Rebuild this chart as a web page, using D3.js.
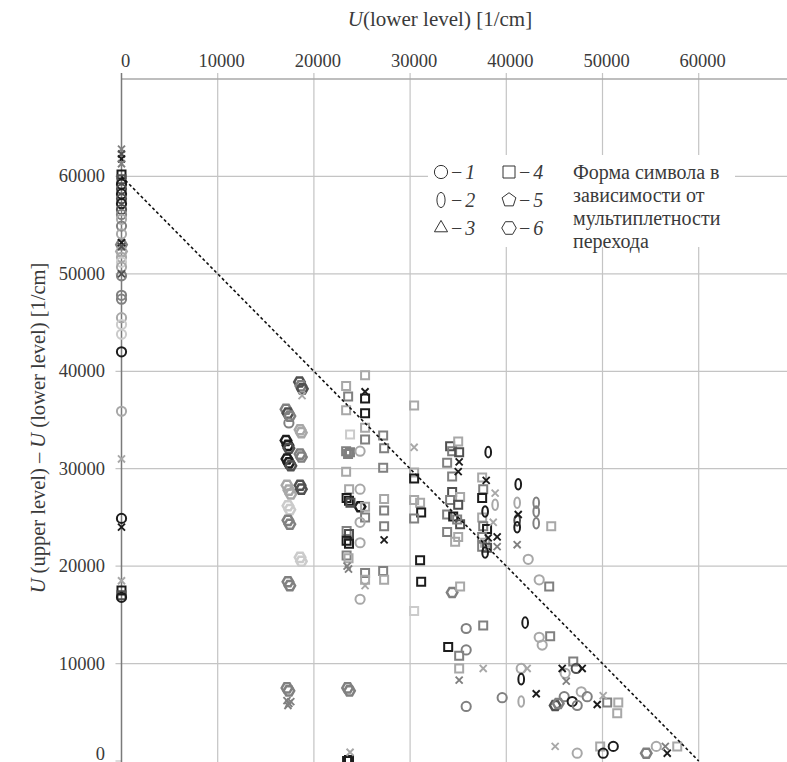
<!DOCTYPE html>
<html>
<head>
<meta charset="utf-8">
<script src="https://cdn.jsdelivr.net/npm/d3@7"></script>
<style>
  body { margin: 0; background: #fff; }
  text { font-family: "Liberation Serif", "Times New Roman", serif; fill: #3a3a3a; }
</style>
</head>
<body>
<div id="container"></div>
<script>
/* CONSTANTS AND GLOBALS */
const width = 787, height = 762;

// each point: [U lower level, U upper - U lower, tone group]
const circles = [
  [0,59200,0],[0,58700,1],[0,58200,0],[0,57700,1],[0,57200,0],[0,56600,1],[0,56100,2],[0,55600,3],
  [0,54900,2],[0,54100,3],[0,51700,3],[0,51200,4],[0,50700,3],[0,49800,2],[0,47800,2],[0,47400,2],
  [0,45500,3],[0,44800,4],[0,43800,4],[0,42000,0],[0,35900,3],[0,24900,0],[0,16800,0],
  [17400,34700,2],
  [24800,31800,3],[24800,27900,3],[24800,24500,3],[24800,22400,3],[24800,16600,3],
  [42280,20700,3],[43420,18600,3],[35830,13600,2],[35830,11400,2],[43420,12700,3],[43730,11900,3],
  [41550,9500,3],[46120,9000,3],[47270,9500,1],[39570,6500,2],[35830,5600,2],[46020,6600,2],
  [46850,6100,0],[47370,5700,2],[47790,7100,3],[48410,6600,2],
  [47370,800,3],[50070,800,0],[51120,1500,0],[55590,1500,3]
];

const ellipses = [
  [38120,31700,0],[37800,25600,0],[37800,21400,0],[38840,26300,3],
  [41240,28400,0],[41130,26500,3],[41130,24700,1],[41130,24000,0],
  [43110,26500,2],[43110,25600,2],[43110,24400,2],
  [41960,14200,0],[41550,8400,0],[41550,6100,3]
];

const squares = [
  [0,60200,0],[0,59700,1],[0,17500,0],[0,17000,1],
  [23450,0,0],[23650,100,0],
  [23350,38500,3],[23560,37400,2],[23350,36000,3],[23760,33500,4],
  [23350,31800,2],[23550,31500,2],[23750,31700,2],[23350,29700,3],[23660,27900,3],
  [23400,27000,0],[23650,26700,0],[23800,26500,1],[23400,23600,2],[23650,23300,1],
  [23400,22600,0],[23650,22300,0],[23400,21100,2],[23600,20800,3],
  [25320,39600,3],[25320,37200,0],[25320,35700,0],[25320,34200,3],[25320,33000,2],
  [25320,26100,3],[25320,25000,2],[25320,19300,2],[25320,18600,3],
  [27200,33400,2],[27300,32100,2],[27200,30100,2],[27300,26900,3],[27300,25700,2],
  [27300,24100,2],[27200,19500,2],[27300,18600,3],
  [30420,36500,3],[30420,29600,3],[30420,29000,0],[30420,26800,3],[31040,26500,3],
  [31150,25500,0],[30420,24900,2],[31040,20600,0],[31150,18400,0],[30420,15400,4],
  [34160,32300,1],[35000,32800,3],[34370,31800,2],[35100,31700,1],[33850,30600,2],
  [34370,29200,2],[34370,27600,1],[35200,27100,3],[34160,26800,2],[35000,26300,1],
  [33850,25300,2],[34480,25100,0],[35200,24300,1],[34890,24800,2],[33850,23500,2],
  [35000,23000,3],[34680,22500,3],
  [37490,29100,3],[37600,27900,2],[37490,27000,0],[37490,25000,3],[37600,24100,2],
  [38000,23800,0],[37490,23000,2],[37800,22400,3],[37490,22000,2],[38000,21900,1],
  [44670,24100,3],
  [44460,17900,2],[35200,17900,3],[46960,10200,2],[35100,10800,2],[35100,9500,3],
  [33960,11700,0],[37600,13900,2],[44560,12800,2],
  [50490,6000,2],[51640,6000,3],[51530,4900,3],[49760,1500,3],[57770,1500,3]
];

const hexagons = [
  [0,53000,2],[0,52300,3],
  [18500,38900,1],[18650,38500,2],[18800,38200,1],
  [17100,36100,2],[17300,35700,1],[17500,35400,2],
  [18560,34000,3],[18700,33700,3],
  [17100,32900,0],[17300,32400,0],[17400,32100,1],
  [17200,31000,0],[17400,30600,0],[17600,30300,1],
  [18560,31500,2],[18700,31200,2],
  [17200,28300,3],[17400,27800,3],[17600,27400,3],
  [18560,28300,1],[18700,27900,1],
  [17300,26200,4],[17500,25800,4],
  [17300,24700,2],[17500,24300,2],
  [18560,20900,4],[18700,20500,4],
  [17300,18400,2],[17500,18000,2],
  [17200,7500,2],[17400,7200,2],
  [23500,7500,2],[23700,7200,2],
  [24800,26100,0],[34370,17300,2],
  [45080,5700,1],[45400,5900,2],[54550,800,2]
];

const crosses = [
  [0,62800,2],[0,62300,1],[0,61800,0],[0,61300,2],[0,53200,0],[0,52800,1],[0,50000,1],
  [0,31000,3],[0,24000,0],[0,18500,3],
  [18770,37500,3],
  [17200,6200,2],[17400,5900,2],[17600,6100,2],[17300,5700,2],
  [23760,900,3],
  [23450,20000,2],[23600,19700,2],
  [25320,37900,0],[25320,18000,3],
  [27300,22700,0],
  [30420,32200,3],
  [35100,30700,0],[35000,29700,0],
  [37910,28800,0],[38840,27500,3],[38640,24500,3],[38120,22900,0],[39050,23000,0],[39050,22000,2],
  [41240,25300,0],[41130,22200,2],
  [37600,9500,3],[35100,8300,2],[42170,9500,3],[45810,9500,0],[47890,9500,0],[46230,8200,2],
  [43110,6900,0],[49450,5800,0],[50070,6700,3],[45080,1500,3],[56530,1500,2],[56730,800,0]
];

const xTicks = [0, 10000, 20000, 30000, 40000, 50000, 60000];
const yTicks = [0, 10000, 20000, 30000, 40000, 50000, 60000];
const legendItems = [
  { shape: "circle", label: "1" }, { shape: "ellipse", label: "2" }, { shape: "triangle", label: "3" },
  { shape: "square", label: "4" }, { shape: "pentagon", label: "5" }, { shape: "hexagon", label: "6" }
];
const noteLines = ["Форма символа в", "зависимости от", "мультиплетности", "перехода"];

const tones = ["#1c1c1c", "#505050", "#808080", "#a8a8a8", "#cbcbcb"];

const svg = d3.select("#container")
  .append("svg")
  .attr("width", width)
  .attr("height", height)
  .style("background", "#fff");

// scales
const x = d3.scaleLinear().domain([0, 70000]).range([121.5, 794.9]);
const y = d3.scaleLinear().domain([0, 70000]).range([761, 79]);

// marker outlines, centred on 0,0
function polygon(n, r, rot) {
  const pts = d3.range(n).map(i => {
    const a = rot + i * 2 * Math.PI / n;
    return [r * Math.cos(a), r * Math.sin(a)];
  });
  return "M" + pts.map(p => p.join(",")).join("L") + "Z";
}
function markerPath(shape, s) {
  if (shape === "circle") return `M${-s},0A${s},${s} 0 1,1 ${s},0A${s},${s} 0 1,1 ${-s},0Z`;
  if (shape === "ellipse") { const rx = s * 0.62, ry = s * 1.15;
    return `M0,${-ry}A${rx},${ry} 0 1,1 0,${ry}A${rx},${ry} 0 1,1 0,${-ry}Z`; }
  if (shape === "square") return `M${-s},${-s}H${s}V${s}H${-s}Z`;
  if (shape === "cross") { const c = s * 0.8;
    return `M${-c},${-c}L${c},${c}M${-c},${c}L${c},${-c}`; }
  if (shape === "triangle") return polygon(3, s * 1.15, -Math.PI / 2);
  if (shape === "pentagon") return polygon(5, s * 1.1, -Math.PI / 2);
  if (shape === "hexagon") return polygon(6, s * 1.1, 0);
}

// gridlines
const grid = svg.append("g").attr("stroke", "#c4c4c4").attr("stroke-width", 1.2);
grid.selectAll("line.vgrid")
  .data(xTicks.filter(d => d > 0))
  .join("line")
  .attr("x1", d => x(d)).attr("x2", d => x(d))
  .attr("y1", y(70000) - 6).attr("y2", height);
grid.selectAll("line.hgrid")
  .data(yTicks.filter(d => d > 0))
  .join("line")
  .attr("x1", x(0) - 6).attr("x2", width)
  .attr("y1", d => y(d)).attr("y2", d => y(d));

// top (x) axis line and ticks
svg.append("line")
  .attr("x1", x(0)).attr("x2", width)
  .attr("y1", y(70000)).attr("y2", y(70000))
  .attr("stroke", "#a8a8a8").attr("stroke-width", 1.3);
svg.append("line")
  .attr("x1", x(0) - 6).attr("x2", x(0))
  .attr("y1", y(0)).attr("y2", y(0))
  .attr("stroke", "#c4c4c4").attr("stroke-width", 1.2);

// y axis line
svg.append("line")
  .attr("x1", x(0)).attr("x2", x(0))
  .attr("y1", y(70000) - 6).attr("y2", height)
  .attr("stroke", "#7a7a7a").attr("stroke-width", 1.5);

// tick labels
svg.selectAll("text.xtick")
  .data(xTicks)
  .join("text")
  .attr("class", "xtick")
  .attr("x", d => x(d) + 4)
  .attr("y", 67)
  .attr("text-anchor", "middle")
  .attr("font-size", 18.5)
  .text(d => d);

// bottom label sits at the window edge, keep it inside
svg.selectAll("text.ytick")
  .data(yTicks)
  .join("text")
  .attr("class", "ytick")
  .attr("x", 105)
  .attr("y", d => Math.min(y(d) + 6, 760))
  .attr("text-anchor", "end")
  .attr("font-size", 18.5)
  .text(d => d);

// axis titles
const xt = svg.append("text")
  .attr("x", 440).attr("y", 26)
  .attr("text-anchor", "middle")
  .attr("font-size", 21);
xt.append("tspan").attr("font-style", "italic").text("U");
xt.append("tspan").text("(lower level) [1/cm]");

const yt = svg.append("text")
  .attr("transform", "translate(45,428) rotate(-90)")
  .attr("text-anchor", "middle")
  .attr("font-size", 20.5);
yt.append("tspan").attr("font-style", "italic").text("U");
yt.append("tspan").text(" (upper level) – ");
yt.append("tspan").attr("font-style", "italic").text("U");
yt.append("tspan").text(" (lower level) [1/cm]");

// points
const series = [
  { shape: "hexagon", data: hexagons, size: 4.8, sw: 2.5 },
  { shape: "square", data: squares, size: 4.0, sw: 2.0 },
  { shape: "circle", data: circles, size: 4.6, sw: 2.0 },
  { shape: "ellipse", data: ellipses, size: 4.6, sw: 2.0 },
  { shape: "cross", data: crosses, size: 4.4, sw: 1.9 }
];
series.forEach(s => {
  svg.append("g").selectAll("path")
    .data(s.data)
    .join("path")
    .attr("d", markerPath(s.shape, s.size))
    .attr("fill", "none")
    .attr("stroke", d => tones[d[2]])
    .attr("stroke-width", s.sw)
    .attr("transform", d => `translate(${x(d[0])}, ${y(d[1])})`);
});

// diagonal reference line U_upper = 60000
svg.append("line")
  .attr("x1", x(0)).attr("y1", y(60000))
  .attr("x2", x(60000)).attr("y2", y(0))
  .attr("stroke", "#111")
  .attr("stroke-width", 1.6)
  .attr("stroke-dasharray", "3,2.5");

// legend
const legend = svg.append("g");
legend.append("rect")
  .attr("x", 428).attr("y", 155)
  .attr("width", 307).attr("height", 92)
  .attr("fill", "#fff");

const li = legend.selectAll("g.item")
  .data(legendItems)
  .join("g")
  .attr("class", "item")
  .attr("transform", (d, i) => `translate(${441 + Math.floor(i / 3) * 68}, ${172 + (i % 3) * 28})`);
li.append("path")
  .attr("d", d => markerPath(d.shape, d.shape === "square" ? 6 : 6.6))
  .attr("fill", "none")
  .attr("stroke", "#333")
  .attr("stroke-width", 1);
const lt = li.append("text")
  .attr("x", 10).attr("y", 7)
  .attr("font-size", 20);
lt.append("tspan").text("−");
lt.append("tspan").attr("font-style", "italic").attr("dx", 3).text(d => d.label);

legend.selectAll("text.note")
  .data(noteLines)
  .join("text")
  .attr("class", "note")
  .attr("x", 573)
  .attr("y", (d, i) => 179 + i * 23)
  .attr("font-size", 20)
  .text(d => d);
</script>
</body>
</html>
